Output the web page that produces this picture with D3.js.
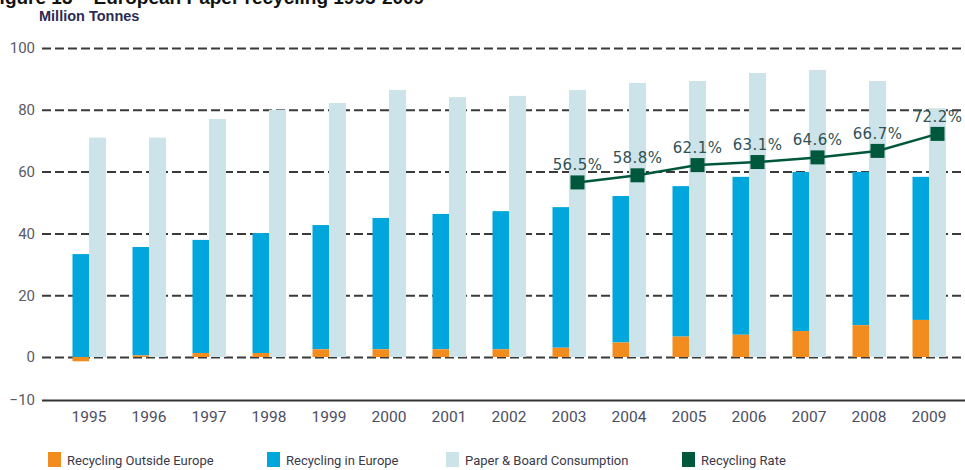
<!DOCTYPE html>
<html>
<head>
<meta charset="utf-8">
<script src="https://cdn.jsdelivr.net/npm/d3@7"></script>
<style>
  body { margin: 0; background: #fff; }
  svg { display: block; }
</style>
</head>
<body>
<svg id="chart" width="965" height="470"></svg>
<script>

// values (million tonnes, rate in %)
let years = ['1995', '1996', '1997', '1998', '1999', '2000', '2001', '2002', '2003', '2004', '2005', '2006', '2007', '2008', '2009']
let outsideEurope = [-1, 0.5, 1.3, 1.3, 2.5, 2.5, 2.5, 2.5, 3.0, 4.7, 6.6, 7.2, 8.4, 10.3, 12.0]
let inEurope = [33.3, 35.1, 36.6, 38.8, 40.2, 42.5, 43.8, 44.7, 45.5, 47.4, 48.7, 51.1, 51.5, 49.6, 46.3]
let consumption = [71, 71, 77, 80, 82.2, 86.4, 84.1, 84.5, 86.4, 88.7, 89.3, 91.9, 92.9, 89.3, 80.5]
let rateYears = ['2003', '2004', '2005', '2006', '2007', '2008', '2009']
let rates = [56.5, 58.8, 62.1, 63.1, 64.6, 66.7, 72.2]
let yTicks = [-10, 0, 20, 40, 60, 80, 100]
let legendLabels = ['Recycling Outside Europe', 'Recycling in Europe', 'Paper & Board Consumption', 'Recycling Rate']

let colors = {
    outside: '#f28c1e',
    europe: '#00a6dc',
    consumption: '#cce3e9',
    rate: '#00583c'
}

let svg = d3.select('#chart')

// title, cut by the top edge like in the source picture
svg.append('text')
    .attr('x', -12)
    .attr('y', 4)
    .style('font-family', 'Liberation Sans, Arial, sans-serif')
    .style('font-weight', 'bold')
    .style('font-size', '19px')
    .style('fill', '#111')
    .text('Figure 13 \u2013 European Paper recycling 1995-2009')

svg.append('text')
    .attr('x', 39)
    .attr('y', 21)
    .style('font-family', 'Liberation Sans, Arial, sans-serif')
    .style('font-weight', 'bold')
    .style('font-size', '14.5px')
    .style('fill', '#2b2b55')
    .text('Million Tonnes')

// the -10 step is drawn larger than the others in the source, so piecewise scale
let y = d3.scaleLinear().domain([-10, 0, 100]).range([400, 357, 48])
let x = d3.scaleBand().domain(years).range([59, 959])

// grid + y labels
let yAxis = svg.append('g')
    .attr('transform', 'translate(42,0)')
    .call(d3.axisLeft(y).tickValues(yTicks).tickSize(-923).tickPadding(7).tickFormat(d => d < 0 ? '\u2212' + Math.abs(d) : d))
yAxis.select('.domain').remove()
yAxis.selectAll('.tick line')
    .attr('stroke', d => d < 0 ? '#333' : '#3a3a3a')
    .attr('stroke-width', 2)
    .attr('stroke-dasharray', d => d < 0 ? null : '9,4')
yAxis.selectAll('.tick text')
    .style('font-family', 'Roboto, sans-serif')
    .style('font-size', '15px')
    .style('fill', '#5a5a66')

let bw = 16.5

// consumption bars
svg.selectAll('.cons')
    .data(years)
    .enter().append('rect')
    .attr('fill', colors.consumption)
    .attr('x', d => x(d) + x.bandwidth() / 2)
    .attr('width', 17)
    .attr('y', (d, i) => y(consumption[i]))
    .attr('height', (d, i) => y(0) - y(consumption[i]))

// recycling in Europe, stacked on top of outside Europe
svg.selectAll('.eur')
    .data(years)
    .enter().append('rect')
    .attr('fill', colors.europe)
    .attr('x', d => x(d) + x.bandwidth() / 2 - bw)
    .attr('width', bw)
    .attr('y', (d, i) => y(Math.max(0, outsideEurope[i]) + inEurope[i]))
    .attr('height', (d, i) => y(Math.max(0, outsideEurope[i])) - y(Math.max(0, outsideEurope[i]) + inEurope[i]))

svg.selectAll('.out')
    .data(years)
    .enter().append('rect')
    .attr('fill', colors.outside)
    .attr('x', d => x(d) + x.bandwidth() / 2 - bw)
    .attr('width', bw)
    .attr('y', (d, i) => y(Math.max(0, outsideEurope[i])))
    .attr('height', (d, i) => Math.abs(y(0) - y(outsideEurope[i])))

// year labels
let xAxis = svg.append('g')
    .attr('transform', 'translate(0,400)')
    .call(d3.axisBottom(x).tickSize(0).tickPadding(11))
xAxis.select('.domain').remove()
xAxis.selectAll('.tick text')
    .style('font-family', 'Roboto, sans-serif')
    .style('font-size', '15.5px')
    .style('fill', '#4e4e62')

// recycling rate line
let rx = d => x(d) + x.bandwidth() / 2 + 8.5

let line = d3.line()
    .x((d, i) => rx(rateYears[i]))
    .y(d => y(d))

svg.append('path')
    .datum(rates)
    .attr('fill', 'none')
    .attr('stroke', colors.rate)
    .attr('stroke-width', 2.5)
    .attr('d', line)

svg.selectAll('.mark')
    .data(rates)
    .enter().append('rect')
    .attr('fill', colors.rate)
    .attr('x', (d, i) => rx(rateYears[i]) - 7)
    .attr('y', d => y(d) - 7)
    .attr('width', 14)
    .attr('height', 14)

svg.selectAll('.rlab')
    .data(rates)
    .enter().append('text')
    .attr('x', (d, i) => rx(rateYears[i]))
    .attr('y', d => y(d) - 12)
    .attr('text-anchor', 'middle')
    .style('font-family', 'DejaVu Sans, sans-serif')
    .style('font-size', '15px')
    .style('letter-spacing', '0.4px')
    .style('fill', '#2f5256')
    .text(d => d.toFixed(1) + '%')

// legend
let legendX = [48, 267, 446, 682]
let legendColors = [colors.outside, colors.europe, colors.consumption, colors.rate]

let legend = svg.selectAll('.leg')
    .data(legendLabels)
    .enter().append('g')
    .attr('transform', (d, i) => `translate(${legendX[i]},452)`)

legend.append('rect')
    .attr('width', 13)
    .attr('height', 15)
    .attr('fill', (d, i) => legendColors[i])

legend.append('text')
    .attr('x', 19)
    .attr('y', 13)
    .style('font-family', 'Roboto, sans-serif')
    .style('font-size', '13px')
    .style('fill', '#3a3a4a')
    .text(d => d)

</script>
</body>
</html>
